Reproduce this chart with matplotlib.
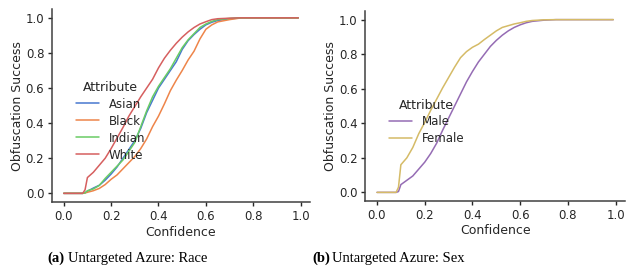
import matplotlib
matplotlib.use("Agg")
import matplotlib.pyplot as plt
import seaborn as sns

# confidence threshold grid shared by all curves
CONF = [0.0, 0.08, 0.09, 0.10, 0.125, 0.15, 0.175, 0.2, 0.225, 0.25, 0.275,
        0.3, 0.325, 0.35, 0.375, 0.4, 0.425, 0.45, 0.475, 0.5, 0.525, 0.55,
        0.575, 0.6, 0.625, 0.65, 0.7, 0.75, 0.8, 0.9, 0.99]

RACE_LABELS = ["Asian", "Black", "Indian", "White"]
ASIAN = [0, 0, 0.003, 0.012, 0.03, 0.046, 0.075, 0.11, 0.15, 0.20, 0.25, 0.30,
         0.37, 0.46, 0.53, 0.60, 0.65, 0.70, 0.75, 0.82, 0.87, 0.905, 0.935,
         0.96, 0.975, 0.985, 0.995, 1, 1, 1, 1]
BLACK = [0, 0, 0.002, 0.006, 0.015, 0.028, 0.05, 0.08, 0.105, 0.14, 0.175, 0.21,
         0.255, 0.31, 0.38, 0.44, 0.51, 0.585, 0.645, 0.70, 0.76, 0.81, 0.88,
         0.935, 0.96, 0.977, 0.99, 1, 1, 1, 1]
INDIAN = [0, 0, 0.003, 0.015, 0.025, 0.045, 0.085, 0.12, 0.155, 0.19, 0.24, 0.29,
          0.38, 0.47, 0.55, 0.61, 0.66, 0.71, 0.77, 0.83, 0.875, 0.91, 0.945,
          0.965, 0.98, 0.99, 0.997, 1, 1, 1, 1]
WHITE = [0, 0, 0.02, 0.09, 0.12, 0.16, 0.20, 0.255, 0.315, 0.375, 0.44, 0.495,
         0.55, 0.60, 0.65, 0.715, 0.77, 0.815, 0.855, 0.89, 0.92, 0.945, 0.965,
         0.978, 0.99, 0.995, 0.998, 1, 1, 1, 1]

SEX_LABELS = ["Male", "Female"]
MALE = [0, 0, 0.005, 0.045, 0.07, 0.095, 0.135, 0.175, 0.225, 0.285, 0.36, 0.43,
        0.50, 0.57, 0.64, 0.70, 0.755, 0.80, 0.845, 0.88, 0.91, 0.935, 0.955,
        0.97, 0.982, 0.99, 0.997, 1, 1, 1, 1]
FEMALE = [0, 0, 0.03, 0.16, 0.20, 0.26, 0.34, 0.405, 0.475, 0.54, 0.605, 0.665,
          0.725, 0.78, 0.815, 0.84, 0.858, 0.885, 0.91, 0.935, 0.955, 0.965,
          0.975, 0.982, 0.99, 0.995, 0.999, 1, 1, 1, 1]

CAPTIONS = [("(a)", "Untargeted Azure: Race"), ("(b)", "Untargeted Azure: Sex")]

sns.set_style("ticks")
plt.rcParams["font.family"] = ["DejaVu Sans"]
muted = sns.color_palette("muted")

fig = plt.figure(figsize=(6.34, 2.75), dpi=100)
ax1 = fig.add_axes([0.082, 0.265, 0.407, 0.702])
ax2 = fig.add_axes([0.576, 0.269, 0.410, 0.691])

for ys, lab, c in zip([ASIAN, BLACK, INDIAN, WHITE], RACE_LABELS, muted[:4]):
    ax1.plot(CONF, ys, color=c, lw=1.1, label=lab)
for ys, lab, c in zip([MALE, FEMALE], SEX_LABELS, [muted[4], muted[8]]):
    ax2.plot(CONF, ys, color=c, lw=1.1, label=lab)

for ax in (ax1, ax2):
    ax.set_xlabel("Confidence", fontsize=9, labelpad=2)
    ax.set_ylabel("Obfuscation Success", fontsize=9, labelpad=1.5)
    ax.set_xticks([0, 0.2, 0.4, 0.6, 0.8, 1.0])
    ax.set_yticks([0, 0.2, 0.4, 0.6, 0.8, 1.0])
    ax.tick_params(labelsize=8.5, length=3, pad=2.5, width=1.0)
    for s in ("left", "bottom"):
        ax.spines[s].set_linewidth(1.1)
        ax.spines[s].set_color(".25")
    sns.despine(ax=ax)

ax1.legend(title="Attribute", frameon=False, fontsize=8.5, title_fontsize=9,
           loc="upper left", bbox_to_anchor=(0.05, 0.685), labelspacing=0.34)
ax2.legend(title="Attribute", frameon=False, fontsize=8.5, title_fontsize=9,
           loc="upper left", bbox_to_anchor=(0.05, 0.595), labelspacing=0.3)

# subfigure captions: bold tag followed by regular text
for (tag, rest), xs in zip(CAPTIONS, [65, 330]):
    fig.text(xs / 634, 0.047, tag, fontsize=10.5, ha="right", va="baseline",
             family="Liberation Serif", weight="bold", color="black")
    fig.text((xs + 2.5) / 634, 0.047, rest, fontsize=10.5, ha="left",
             va="baseline", family="Liberation Serif", color="black")

fig.savefig("out.png", dpi=100)
